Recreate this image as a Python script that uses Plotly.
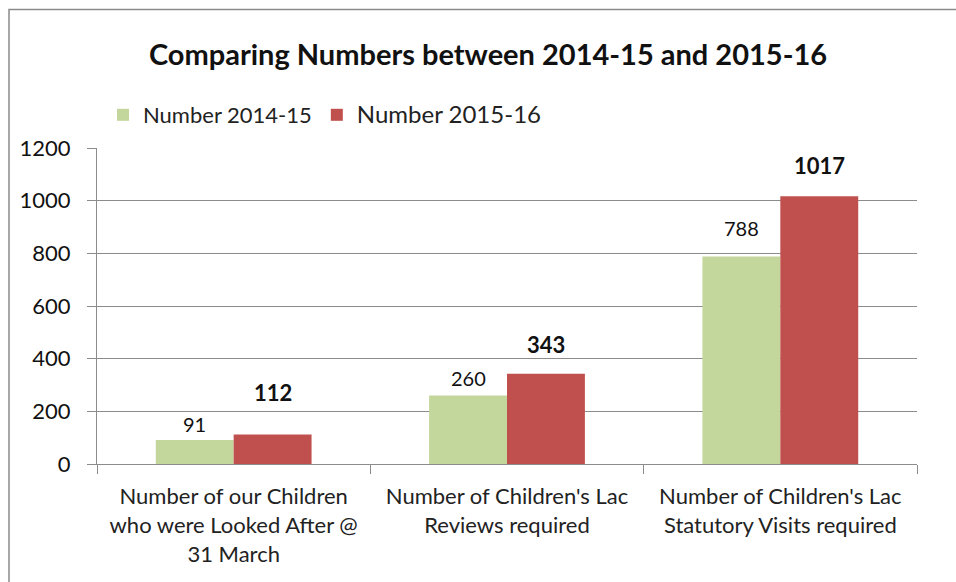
import plotly.graph_objects as go

categories = [
    "Number of our Children<br>who were Looked After @<br>31 March",
    "Number of Children's Lac<br>Reviews required",
    "Number of Children's Lac<br>Statutory Visits required",
]
series_names = ["Number 2014-15", "Number 2015-16"]
values_2014_15 = [91, 260, 788]
values_2015_16 = [112, 343, 1017]
y_ticks = [0, 200, 400, 600, 800, 1000, 1200]

GREEN = "#C3D69B"
RED = "#C0504D"
GRID = "#8C8C8C"
FONT = "Lato"

fig = go.Figure()
fig.add_trace(go.Bar(
    x=categories, y=values_2014_15, name=series_names[0],
    marker=dict(color=GREEN, line=dict(width=0)),
))
fig.add_trace(go.Bar(
    x=categories, y=values_2015_16,
    name='<span style="font-size:24px">' + series_names[1] + '</span>',
    marker=dict(color=RED, line=dict(width=0)),
))

# data labels
green_shift = [16, 18, 28]
red_shift = [42, 29, 31]
for i, c in enumerate(categories):
    fig.add_annotation(x=c, y=values_2014_15[i], xref="x", yref="y",
                       text=str(values_2014_15[i]), showarrow=False,
                       xshift=-39, yshift=green_shift[i], yanchor="middle",
                       font=dict(family=FONT, size=20, color="#111111"))
    fig.add_annotation(x=c, y=values_2015_16[i], xref="x", yref="y",
                       text="<b>" + str(values_2015_16[i]) + "</b>", showarrow=False,
                       xshift=39, yshift=red_shift[i], yanchor="middle",
                       font=dict(family=FONT, size=22, color="#111111"))

# outer chart border (top and left visible)
fig.add_shape(type="rect", xref="paper", yref="paper",
              x0=(9 - 97) / 820, x1=1.2, y0=-0.5, y1=(464 - 9.5) / 316,
              line=dict(color="#8A8A8A", width=1.5), fillcolor="rgba(0,0,0,0)",
              layer="below")

fig.update_layout(
    width=956, height=582,
    margin=dict(l=97, r=39, t=148, b=118, pad=0),
    paper_bgcolor="white", plot_bgcolor="white",
    barmode="group", bargap=0.43, bargroupgap=0,
    title=dict(text="<b>Comparing Numbers between 2014-15 and 2015-16</b>",
               x=488 / 956, xanchor="center", y=1 - 55 / 582, yanchor="middle",
               font=dict(family=FONT, size=29, color="#111111")),
    legend=dict(orientation="h", x=(103 - 97) / 820, xanchor="left",
                y=(464 - 115) / 316, yanchor="middle",
                font=dict(family=FONT, size=22, color="#222222"),
                bgcolor="rgba(0,0,0,0)", traceorder="normal"),
    showlegend=True,
    font=dict(family=FONT),
)
fig.update_xaxes(
    type="category", showline=True, linecolor=GRID, linewidth=1,
    ticks="outside", tickson="boundaries", ticklen=9, tickcolor=GRID,
    showgrid=False, ticklabelstandoff=13,
    tickfont=dict(family=FONT, size=22, color="#222222"),
)
fig.update_yaxes(
    range=[0, 1200], tickvals=y_ticks, showline=True, linecolor=GRID, linewidth=1,
    ticks="outside", ticklen=9, tickcolor=GRID, ticklabelstandoff=12,
    showgrid=True, gridcolor=GRID, gridwidth=1, zeroline=False,
    tickfont=dict(family=FONT, size=22, color="#111111"),
)

fig.write_html("out.html", config={"displayModeBar": False},
               post_script="document.body.style.margin='0';")
